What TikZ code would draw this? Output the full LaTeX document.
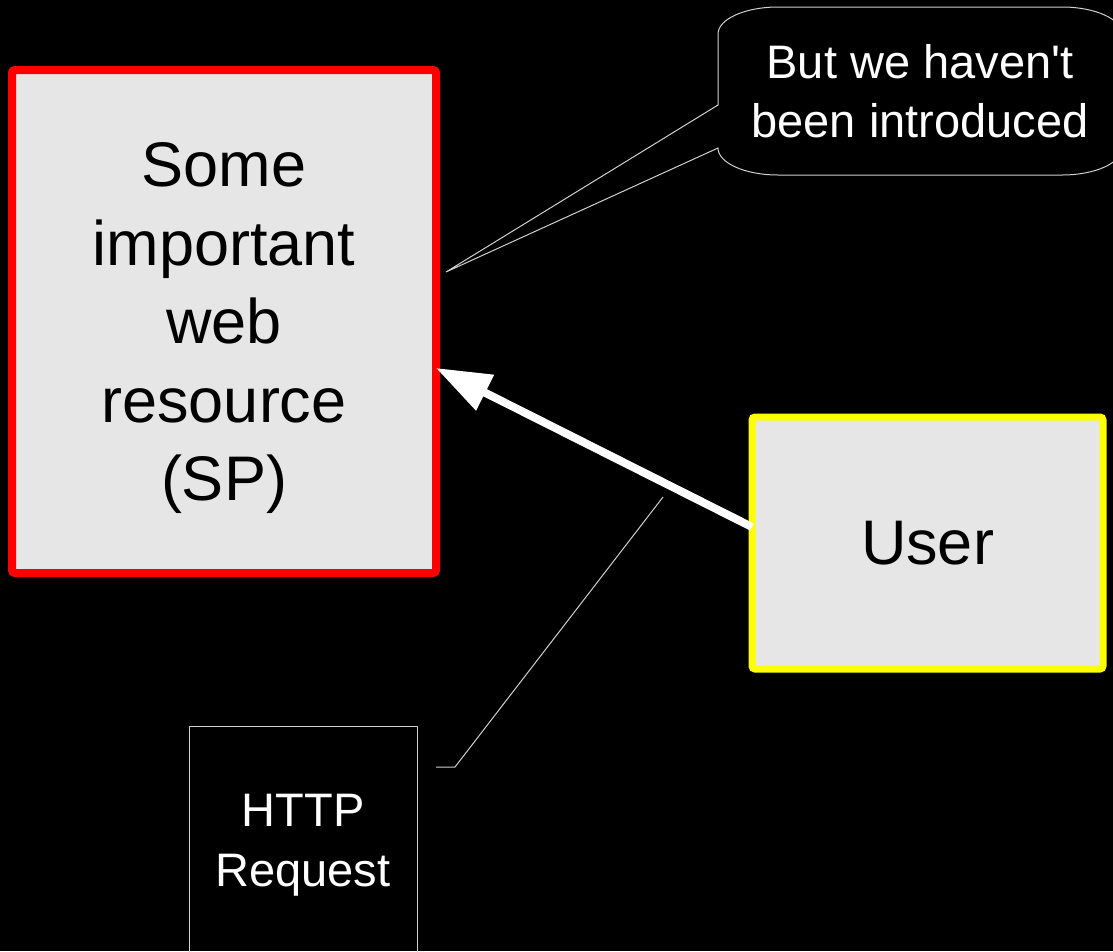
\documentclass[tikz,border=0pt]{standalone}
\usepackage{fontspec}
\setmainfont{Liberation Sans}
\usetikzlibrary{arrows.meta}
\definecolor{boxfill}{HTML}{E6E6E6}
\definecolor{thinline}{HTML}{D0D0D0}
\definecolor{sunyellow}{HTML}{FFFF00}
\tikzset{
  bigbox/.style={draw, fill=boxfill, line width=8pt, rounded corners=3pt,
    align=center, inner sep=0pt, outer sep=0pt, text=black,
    font=\fontsize{63}{78.5}\selectfont},
  annot/.style={draw=thinline, line width=1pt},
  smalltext/.style={text=white, align=center, font=\fontsize{47}{59}\selectfont},
  flow/.style={draw=white, line width=8pt, -{Triangle[length=55pt,width=38pt]}}
}
\begin{document}
\begin{tikzpicture}[x=1pt,y=-1pt]
  % page frame and background
  \useasboundingbox (0,0) rectangle (1113,951);
  \fill[black] (0,0) rectangle (1113,951);
  \clip (0,0) rectangle (1113,951);

  % the protected resource and the user
  \node[bigbox, draw=red, minimum width=424pt, minimum height=503pt, text depth=0pt]
    (sp) at (224,321.5) {Some\\important\\web\\resource\\(SP)};
  \node[bigbox, draw=sunyellow, line width=7pt, minimum width=351pt, minimum height=252pt]
    (user) at (927.5,543) {User};

  % request arrow from the user to the resource
  \draw[flow] ([yshift=16pt]user.west) -- ([yshift=-46.5pt]sp.east);

  % speech bubble
  \node[smalltext] (say) at (920,91) {But we haven\textquotesingle t\\been introduced};
  \coordinate (tip) at (446,272);
  \draw[annot] (718,105) -- (tip) -- (718,148)
    .. controls (718,162.9) and (744.9,175) .. (778,175)
    -- (1062,175)
    .. controls (1095.1,175) and (1122,162.9) .. (1122,148)
    -- (1122,34)
    .. controls (1122,19.1) and (1095.1,7) .. (1062,7)
    -- (778,7)
    .. controls (744.9,7) and (718,19.1) .. (718,34)
    -- cycle;

  % label for the request with its leader line
  \node[annot, smalltext, font=\fontsize{47}{60}\selectfont, text depth=0pt,
    minimum width=228pt, minimum height=228pt, inner sep=0pt, outer sep=0pt]
    (req) at (303,840) {HTTP\\Request};
  \coordinate (lead) at (663,497);
  \draw[annot] ([shift={(19pt,-41pt)}]req.north east) -- ++(19,0) -- (lead);
\end{tikzpicture}
\end{document}
